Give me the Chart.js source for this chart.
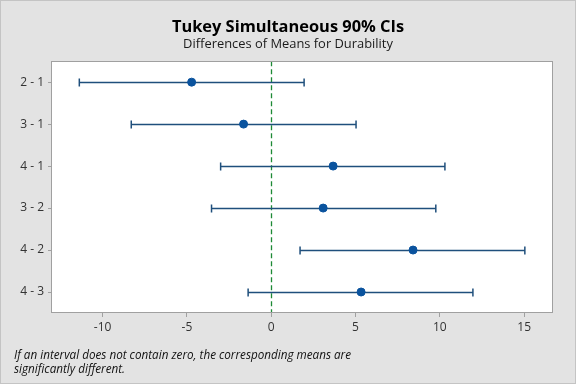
<!DOCTYPE html>
<html>
<head>
<meta charset="utf-8">
<script src="https://cdn.jsdelivr.net/npm/chart.js@4"></script>
<style>
  html, body { margin: 0; padding: 0; background: #e3e3e3; }
  canvas { display: block; }
</style>
</head>
<body>
<canvas id="tukey" width="576" height="384"></canvas>
<script>
// comparisons, top to bottom
const pairs = ['2 - 1', '3 - 1', '4 - 1', '3 - 2', '4 - 2', '4 - 3']
const diffs = [-4.72, -1.64, 3.67, 3.08, 8.41, 5.33]
const lower = [-11.38, -8.30, -3.00, -3.54, 1.71, -1.37]
const upper = [1.95, 5.03, 10.30, 9.76, 15.04, 11.96]
const xTicks = [-10, -5, 0, 5, 10, 15]

const FONT = "'Open Sans', 'Noto Sans', sans-serif"
const barColor = '#1f4f7c'

const frame = {
  id: 'frame',
  beforeDraw(chart) {
    const { ctx, chartArea: a, width, height } = chart
    ctx.save()
    ctx.fillStyle = '#e3e3e3'
    ctx.fillRect(0, 0, width, height)
    ctx.strokeStyle = '#c4c4c4'
    ctx.strokeRect(0.5, 0.5, width - 1, height - 1)
    ctx.fillStyle = '#ffffff'
    ctx.fillRect(a.left, a.top, a.right - a.left, a.bottom - a.top)
    ctx.restore()
  },
  beforeDatasetsDraw(chart) {
    const { ctx, chartArea: a, scales } = chart
    const x0 = Math.round(scales.x.getPixelForValue(0)) + 0.5
    ctx.save()
    ctx.strokeStyle = '#1e8a36'
    ctx.lineWidth = 1.3
    ctx.setLineDash([5, 3])
    ctx.beginPath()
    ctx.moveTo(x0, a.top)
    ctx.lineTo(x0, a.bottom)
    ctx.stroke()
    ctx.setLineDash([])
    // error bars
    ctx.strokeStyle = barColor
    ctx.lineWidth = 1.5
    pairs.forEach((p, i) => {
      const y = Math.round(scales.y.getPixelForValue(i)) + 0.5
      const xl = scales.x.getPixelForValue(lower[i])
      const xu = scales.x.getPixelForValue(upper[i])
      ctx.beginPath()
      ctx.moveTo(xl, y)
      ctx.lineTo(xu, y)
      ctx.moveTo(xl, y - 4)
      ctx.lineTo(xl, y + 4)
      ctx.moveTo(xu, y - 4)
      ctx.lineTo(xu, y + 4)
      ctx.stroke()
    })
    ctx.restore()
  },
  afterDraw(chart) {
    const { ctx, chartArea: a } = chart
    ctx.save()
    ctx.strokeStyle = '#a0a0a0'
    ctx.lineWidth = 1
    ctx.strokeRect(Math.round(a.left) - 0.5, Math.round(a.top) + 0.5,
      Math.round(a.right - a.left) + 1, Math.round(a.bottom - a.top) - 1)
    ctx.fillStyle = '#111'
    ctx.font = 'italic 11.7px ' + FONT
    ctx.textBaseline = 'middle'
    ctx.fillText('If an interval does not contain zero, the corresponding means are', 14, 356)
    ctx.fillText('significantly different.', 14, 370)
    ctx.restore()
  }
}

new Chart(document.getElementById('tukey'), {
  type: 'scatter',
  data: {
    datasets: [{
      data: diffs.map((d, i) => ({ x: d, y: pairs[i] })),
      backgroundColor: '#0a539e',
      borderColor: '#0a539e',
      pointRadius: 4,
      pointHoverRadius: 4
    }]
  },
  options: {
    responsive: false,
    animation: false,
    layout: { padding: 0 },
    plugins: {
      legend: { display: false },
      tooltip: { enabled: false },
      title: {
        display: true,
        text: 'Tukey Simultaneous 90% CIs',
        color: '#000',
        font: { family: FONT, size: 16.4, weight: 'bold', lineHeight: 1.2 },
        padding: { top: 17, bottom: 0 }
      },
      subtitle: {
        display: true,
        text: 'Differences of Means for Durability',
        color: '#1a1a1a',
        font: { family: FONT, size: 12.9, lineHeight: 1.2 },
        padding: { top: 0, bottom: 9 }
      }
    },
    scales: {
      x: {
        type: 'linear',
        min: -13,
        max: 16.65,
        afterBuildTicks: s => { s.ticks = xTicks.map(v => ({ value: v })) },
        afterFit: s => { s.height = 71 },
        border: { display: false },
        grid: { drawOnChartArea: false, drawTicks: true, tickLength: 4, color: '#a0a0a0' },
        ticks: { color: '#333', font: { family: FONT, size: 12 }, padding: 3 }
      },
      y: {
        type: 'category',
        labels: pairs,
        offset: true,
        afterFit: s => { s.width = 52 },
        border: { display: false },
        grid: { offset: false, drawOnChartArea: false, drawTicks: true, tickLength: 4, color: '#a0a0a0' },
        ticks: { color: '#333', font: { family: FONT, size: 12 }, padding: 4 }
      },
      // empty right-hand strip so the titles stay centred on the page
      pad: {
        type: 'linear',
        position: 'right',
        afterFit: s => { s.width = 24 },
        border: { display: false },
        grid: { display: false },
        ticks: { display: false }
      }
    }
  },
  plugins: [frame]
})
</script>
</body>
</html>
